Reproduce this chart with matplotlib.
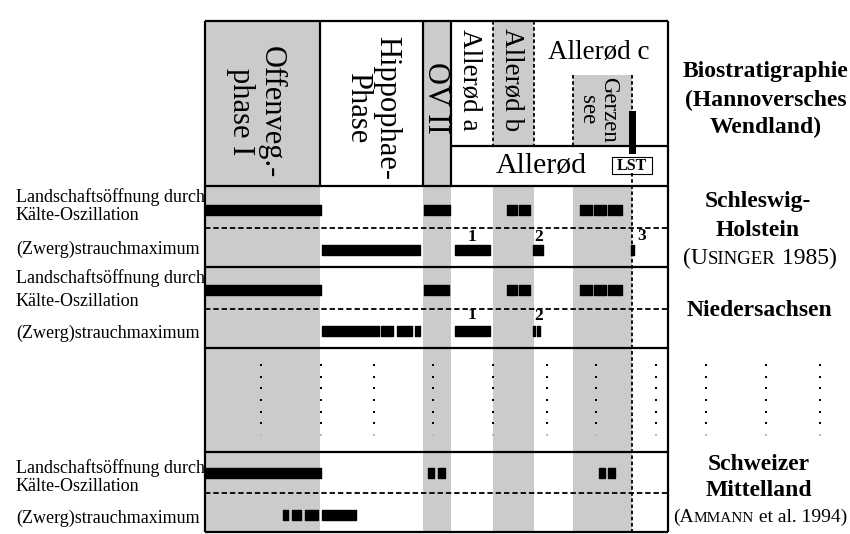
import matplotlib
matplotlib.use("Agg")
import matplotlib.pyplot as plt
from matplotlib.patches import Rectangle
from matplotlib.offsetbox import TextArea, HPacker, AnnotationBbox

SERIF = "Liberation Serif"
GRAY = "#cbcbcb"

# phase boundaries along the x axis (pixel-like units of the scheme)
phase_edges = [205, 320.5, 423, 451.5, 493, 534, 668]
gray_phases = [(205, 320.5), (423, 451.5)]          # full height
gray_subphases = [(493, 534), (573, 632)]           # Allerød b, Gerzensee
gray_sub_tops = [21, 75]

# horizontal structure
y_top, y_head, y_bottom = 21, 186, 532
y_allerod_box = 146
row_lines = [267, 348, 452]
dash_lines = [228, 308.5, 493]

# bars: (start, end) per row
bars_sh_open = [(205, 320.7), (424.3, 450), (506.7, 517.3), (519, 530),
                (580, 591.7), (594, 605.7), (608.3, 621.7)]
bars_sh_shrub = [(321.7, 420), (455, 490), (533.3, 543.3), (630.7, 634)]
bars_ns_open = [(205, 320.7), (424.3, 449), (506.7, 517.3), (519, 530),
                (580, 591.7), (594, 605.7), (608.3, 621.7)]
bars_ns_shrub = [(321.7, 379.3), (381, 393.3), (396.7, 411.7), (415, 420),
                 (455, 490), (533.3, 535.5), (537.5, 540)]
bars_ch_open = [(205, 320.7), (428.3, 434.3), (438.3, 445), (599.3, 605), (608.3, 615)]
bars_ch_shrub = [(283.3, 288.3), (291.7, 301), (305, 317.7), (322.3, 355.7)]
bar_rows = [bars_sh_open, bars_sh_shrub, bars_ns_open, bars_ns_shrub, bars_ch_open, bars_ch_shrub]
bar_y = [210, 250, 290, 330.5, 473, 514.5]
bar_h = 10

# numbered shrub maxima
num_labels = ["1", "2", "3", "1", "2"]
num_x = [472, 539, 642, 472, 539]
num_y = [237, 237, 236, 315, 316]

# dotted "continuation" columns
dot_cols = [261, 320.7, 374.3, 433.3, 492.7, 546.7, 595.7, 656, 705.7, 765.7, 820]
dot_rows = [365, 376.7, 388.3, 400, 411.7, 423.3, 435]

left_labels = ["Landschaftsöffnung durch", "Kälte-Oszillation", "(Zwerg)strauchmaximum"]
left_y = [[196.7, 216, 249.3], [278, 301.7, 333.3], [467.7, 486.7, 518.3]]

fig = plt.figure(figsize=(8.5, 5.34), dpi=100)
ax = fig.add_axes([0, 0, 1, 1])
ax.set_xlim(0, 850)
ax.set_ylim(534, 0)
ax.axis("off")

# gray shading
for x0, x1 in gray_phases:
    ax.bar(x0, y_bottom - y_top, width=x1 - x0, bottom=y_top, align="edge", color=GRAY, lw=0)
for (x0, x1), t in zip(gray_subphases, gray_sub_tops):
    ax.bar(x0, y_allerod_box - t, width=x1 - x0, bottom=t, align="edge", color=GRAY, lw=0)
    ax.bar(x0, y_bottom - y_head, width=x1 - x0, bottom=y_head, align="edge", color=GRAY, lw=0)

# frame and grid
lw = 1.6
ax.hlines([y_top, y_head] + row_lines + [y_bottom], phase_edges[0], phase_edges[-1], color="black", lw=lw)
ax.hlines(y_allerod_box, phase_edges[3], phase_edges[-1], color="black", lw=lw)
ax.vlines([phase_edges[0], phase_edges[-1]], y_top, y_bottom, color="black", lw=lw)
ax.vlines(phase_edges[1:4], y_top, y_head, color="black", lw=lw)
ax.hlines(dash_lines, phase_edges[0], phase_edges[-1], color="black", lw=1.3, linestyles=(0, (3, 1.6)))
dot_ls = (0, (2, 1.4))
ax.vlines(phase_edges[4:6], y_top, y_allerod_box, color="black", lw=1.3, linestyles=dot_ls)
ax.vlines(573, 75, y_allerod_box, color="black", lw=1.3, linestyles=dot_ls)
ax.vlines(632, 75, 111, color="black", lw=1.3, linestyles=dot_ls)
ax.vlines(632, 173, y_bottom, color="black", lw=1.3, linestyles=dot_ls)

# LST marker
ax.bar(629, 154 - 111, width=7, bottom=111, align="edge", color="black", lw=0)
ax.add_patch(Rectangle((612.5, 157), 39.5, 16.5, facecolor="white", edgecolor="black", lw=0.8))
ax.text(632.3, 165.5, "LST", ha="center", va="center", fontsize=11.5, family=SERIF, weight="bold")

# bars
for segs, yc in zip(bar_rows, bar_y):
    ax.broken_barh([(a, b - a) for a, b in segs], (yc - bar_h / 2, bar_h), color="black")

for t, x, y in zip(num_labels, num_x, num_y):
    ax.text(x, y, t, ha="center", va="center", fontsize=12.5, family=SERIF, weight="bold")

# dots
for x in dot_cols:
    ax.scatter([x] * (len(dot_rows) - 1), dot_rows[:-1], s=3, marker="s", color="black", lw=0)
    ax.scatter([x], dot_rows[-1:], s=3, marker="s", color="#bbbbbb", lw=0)

# header texts
ax.text(256, 112, "Offenveg.-\nphase I", rotation=270, ha="center", va="center",
        multialignment="center", fontsize=22, family=SERIF, linespacing=1.1)
ax.text(372, 108, "Hippophae-\nPhase", rotation=270, ha="center", va="center",
        multialignment="center", fontsize=22, family=SERIF, linespacing=1.0)
ax.text(436, 98, "OV II", rotation=270, ha="center", va="center", fontsize=22, family=SERIF)
ax.text(470, 80, "Allerød a", rotation=270, ha="center", va="center", fontsize=19.5, family=SERIF)
ax.text(512, 80, "Allerød b", rotation=270, ha="center", va="center", fontsize=19.5, family=SERIF)
ax.text(599, 52, "Allerød c", ha="center", va="center", fontsize=19.5, family=SERIF)
ax.text(598, 110, "Gerzen\nsee", rotation=270, ha="center", va="center",
        multialignment="center", fontsize=16.5, family=SERIF, linespacing=1.0)
ax.text(541, 166, "Allerød", ha="center", va="center", fontsize=21.5, family=SERIF)

# left labels
for ys in left_y:
    for t, y in zip(left_labels, ys):
        ax.text(16, y, t, ha="left", va="center", fontsize=13, family=SERIF)

# right labels
bold = dict(ha="center", va="center", fontsize=17, family=SERIF, weight="bold")
for t, y in zip(["Biostratigraphie", "(Hannoversches", "Wendland)"], [72, 100, 127]):
    ax.text(766, y, t, **bold)
for t, y in zip(["Schleswig-", "Holstein"], [202, 230]):
    ax.text(758, y, t, **bold)
ax.text(759, 310, "Niedersachsen", **bold)
for t, y in zip(["Schweizer", "Mittelland"], [464, 491]):
    ax.text(759, y, t, **bold)


def small_caps(parts, xy):
    boxes = [TextArea(s, textprops=dict(fontsize=fs, family=SERIF)) for s, fs in parts]
    pack = HPacker(children=boxes, align="baseline", pad=0, sep=0)
    ab = AnnotationBbox(pack, xy, frameon=False, box_alignment=(0.5, 0.5), pad=0)
    ax.add_artist(ab)


small_caps([("(U", 17), ("SINGER", 13.5), (" 1985)", 17)], (760, 258))
small_caps([("(A", 14), ("MMANN", 11), (" et al. 1994)", 14)], (760, 517))

fig.savefig("out.png", dpi=100)
